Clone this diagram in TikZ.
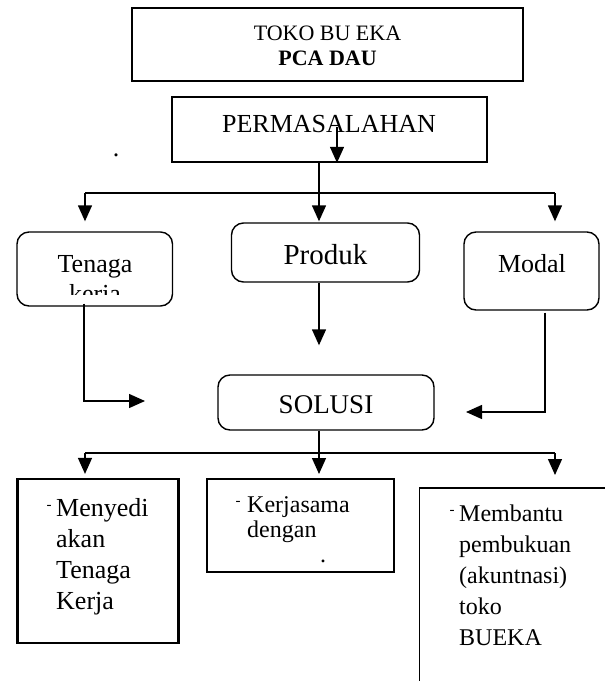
\documentclass[tikz,border=0pt]{standalone}
\usepackage{fontspec}
\setmainfont{Liberation Serif}
\usetikzlibrary{arrows.meta}
\begin{document}
\begin{tikzpicture}[x=1pt,y=-1pt,
  sqbox/.style={draw, line width=1.6pt, inner sep=0pt},
  rbox/.style={draw, line width=1.4pt, rounded corners=12pt, inner sep=0pt},
  conn/.style={line width=1.4pt},
  arr/.style={conn, -{Triangle[length=16pt,width=14pt]}},
  txt/.style={inner sep=0pt},
  big/.style={txt, font=\fontsize{26}{31}\selectfont},
  mid/.style={txt, font=\fontsize{24}{25}\selectfont},
  dashmark/.style={txt, font=\fontsize{15}{15}\selectfont},
]
\useasboundingbox (0,0) rectangle (605,681);
\clip (0,0) rectangle (605,681);

% top boxes
\node[sqbox, line width=2pt, minimum width=391pt, minimum height=73pt] (toko) at (327.5,44.5) {};
\node[txt, anchor=base, align=center, font=\fontsize{22}{25}\selectfont] (tokotxt) at (327.5,65) {TOKO BU EKA\\\textbf{PCA DAU}};

\node[sqbox, minimum width=315pt, minimum height=65pt] (perm) at (329.5,129.5) {};
\node[big, anchor=base] (permtxt) at (329,132.5) {PERMASALAHAN};
\node[big, anchor=base] (dotone) at (116,156) {.};

\coordinate (pa) at (337,127);
\draw[arr] (pa) -- (pa |- perm.south);

% branch 1
\coordinate (j1) at (319,193);
\coordinate (jl) at (85,193);
\coordinate (jr) at (555,193);
\draw[conn] (j1 |- perm.south) -- (j1);
\draw[conn] (jl) -- (jr);

% second row
\node[rbox, minimum width=155.5pt, minimum height=74pt] (tenaga) at (94.75,269) {};
\node[rbox, minimum width=188pt, minimum height=59pt] (produk) at (325.5,252.5) {};
\node[rbox, minimum width=135pt, minimum height=78pt] (modal) at (531.5,271) {};

\node[big, anchor=base] (tenagatxt) at (95,272) {Tenaga};
\begin{scope}
  \clip (17,232) rectangle (172.5,294);
  \node[big, anchor=base] (kerjatxt) at (95,302) {kerja};
\end{scope}
\node[txt, anchor=base, font=\fontsize{29}{30}\selectfont] (produktxt) at (325.5,264) {Produk};
\node[big, anchor=base] (modaltxt) at (532,272) {Modal};

\draw[arr, shorten >=10pt] (jl) -- (jl |- tenaga.north);
\draw[arr, shorten >=1pt] (j1) -- (j1 |- produk.north);
\draw[arr, shorten >=10pt] (jr) -- (jr |- modal.north);

% SOLUSI
\node[rbox, minimum width=216pt, minimum height=55pt] (sol) at (326,402.5) {};
\node[txt, anchor=base, font=\fontsize{27}{30}\selectfont] (soltxt) at (326,413) {SOLUSI};

\coordinate (tend) at (145,401);
\coordinate (mend) at (466,412);
\draw[arr] ([xshift=-10.75pt,yshift=3pt]tenaga.south) |- (tend);
\draw[arr] ([xshift=13.5pt,yshift=-2pt]modal.south) |- (mend);
\draw[arr, shorten >=29pt] ([xshift=-6.5pt]produk.south) -- ([xshift=-6.5pt]produk.south |- sol.north);

% branch 2
\coordinate (k1) at (319,453);
\coordinate (kl) at (85,453);
\coordinate (kr) at (555,453);
\draw[conn] (k1 |- sol.south) -- (k1);
\draw[conn] (kl) -- (kr);

% bottom boxes
\node[sqbox, line width=2.2pt, minimum width=161pt, minimum height=164pt] (bone) at (98,561) {};
\node[sqbox, line width=2pt, minimum width=186.5pt, minimum height=93pt] (btwo) at (300.25,525.5) {};
\node[sqbox, line width=1.5pt, minimum width=260pt, minimum height=260pt, anchor=north west] (bthree) at (418.6,487) {};

\draw[arr, shorten >=4pt] (kl) -- (kl |- bone.north);
\draw[arr, shorten >=4pt] (k1) -- (k1 |- btwo.north);
\draw[arr, shorten >=12pt] (kr) -- (kr |- bthree.north);

\node[dashmark, anchor=base] (dsone) at (49,509) {-};
\node[big, anchor=base west, align=left] (tone) at (56,609) {Menyedi\\akan\\Tenaga\\Kerja};

\node[dashmark, anchor=base] (dstwo) at (238,505) {-};
\node[mid, anchor=base west, align=left] (ttwo) at (247,537) {Kerjasama\\dengan};
\node[mid, anchor=base] (dottwo) at (323,562) {.};

\node[dashmark, anchor=base] (dsthree) at (452,514) {-};
\node[txt, font=\fontsize{24}{31}\selectfont, anchor=base west, align=left] (tthree) at (459,645) {Membantu\\pembukuan\\(akuntnasi)\\toko\\BUEKA};
\end{tikzpicture}
\end{document}
